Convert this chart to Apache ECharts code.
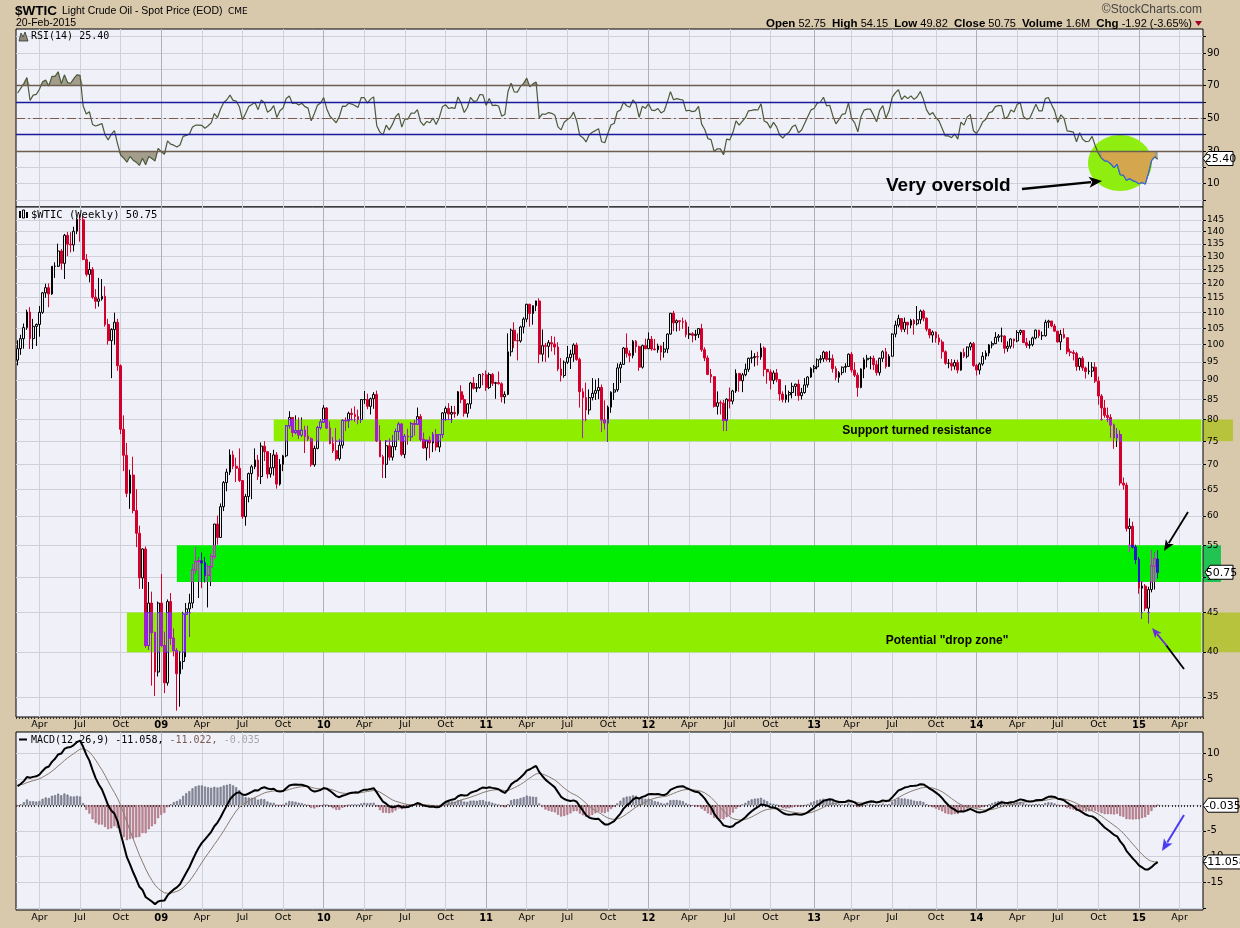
<!DOCTYPE html>
<html><head><meta charset="utf-8">
<script src="https://cdn.jsdelivr.net/npm/echarts@6/dist/echarts.min.js"></script>
<style>html,body{margin:0;padding:0;background:#d8c8ac;}#chart{width:1240px;height:928px;}</style>
</head><body><div id="chart"></div>
<script>
// ================= DATA =================
// Weekly bars of $WTIC, week ending Fridays, first bar 2008-02-22. Each entry: [open, high, low, close]
const firstWeekEnding = '2008-02-22';
const emptyWeeksAfter = 14;
const wk2008 = [
[95.5,101.3,94.0,98.8],[98.8,103.0,97.0,101.8],[101.8,106.5,98.8,105.2],[105.2,111.0,104.5,110.2],
[110.2,111.8,98.7,101.8],[101.8,108.0,98.7,105.6],[105.6,106.5,99.6,106.2],[106.2,112.2,102.4,110.1],
[110.1,117.0,109.6,116.7],[116.7,119.9,115.0,118.5],[118.5,120.0,111.8,116.3],[116.3,126.4,116.0,126.3],
[126.3,127.8,122.0,126.3],[126.3,135.1,126.0,132.2],[132.2,133.0,125.0,127.4],[127.4,139.1,121.6,138.5],
[138.5,139.9,130.2,134.9],[134.9,139.8,131.6,134.6],[134.6,142.1,132.0,140.2],[140.2,145.9,139.0,145.3],
[145.3,147.3,135.9,145.1],[145.1,146.8,128.6,128.9],[128.9,131.0,122.5,123.3],[123.3,128.0,120.4,125.1],
[125.1,126.0,114.6,115.2],[115.2,118.0,111.3,113.8],[113.8,122.0,112.0,114.6],[114.6,121.6,114.0,115.5],
[115.5,119.0,105.5,106.2],[106.2,108.0,100.0,101.2],[101.2,105.0,90.5,104.6],[104.6,110.0,100.0,106.9],
[106.9,108.0,92.5,93.9],[93.9,94.3,76.6,77.7],[77.7,81.0,68.6,71.9],[71.9,74.6,63.5,64.2],
[64.2,68.9,61.3,67.8],[67.8,71.6,60.5,61.0],[61.0,65.0,54.7,57.0],[57.0,58.3,48.3,49.9],
[49.9,54.5,48.3,54.4],[54.4,54.8,40.5,40.8],[40.8,49.3,40.3,46.3],[46.3,47.9,36.2,42.4],
[42.4,42.5,35.1,37.7]];
const wk2009 = [
[37.7,46.5,37.2,46.3],[46.3,50.5,40.6,40.8],[40.8,42.5,35.4,36.5],[36.5,46.8,36.2,46.5],
[46.5,47.7,40.9,41.7],[41.7,42.9,39.5,40.2],[40.2,40.5,33.6,37.5],[37.5,40.1,34.0,38.9],
[38.9,45.1,38.0,44.8],[44.8,46.3,39.4,45.5],[45.5,47.6,41.9,46.3],[46.3,52.0,45.6,51.1],
[51.1,54.7,50.5,52.4],[52.4,53.0,47.0,52.5],[52.5,53.8,48.4,52.2],[52.2,53.1,49.2,50.3],
[50.3,51.9,45.7,51.6],[51.6,53.6,48.7,53.2],[53.2,58.6,52.8,58.6],[58.6,60.1,55.1,56.3],
[56.3,62.3,56.2,61.7],[61.7,66.6,60.9,66.3],[66.3,69.1,64.6,68.4],[68.4,73.2,67.8,72.0],
[72.0,72.9,69.0,69.6],[69.6,71.4,66.4,69.2],[69.2,73.4,66.4,66.7],[66.7,66.7,59.5,59.9],
[59.9,64.1,58.3,63.6],[63.6,68.3,62.5,68.1],[68.1,69.9,63.1,69.5],[69.5,73.4,69.0,70.9],
[70.9,72.0,66.8,67.5],[67.5,74.7,66.0,73.9],[73.9,75.0,70.7,72.7],[72.7,72.7,67.1,68.0],
[68.0,72.4,67.3,69.3],[69.3,73.1,67.7,72.0],[72.0,72.6,65.1,66.0],[66.0,71.1,65.7,70.0],
[70.0,72.0,68.6,71.8],[71.8,78.7,71.5,78.5],[78.5,82.0,77.9,80.5],[80.5,80.5,76.0,77.0],
[77.0,81.0,76.6,77.4],[77.4,80.5,75.5,76.4],[76.4,80.5,76.0,77.5],[77.5,78.5,72.4,76.1],
[76.1,78.5,75.1,75.5],[75.5,75.8,69.5,69.9],[69.9,74.0,69.5,73.4],[73.4,78.4,73.2,78.1],
[78.1,80.0,77.7,79.4]];
const wk2010 = [
[79.4,83.5,79.3,82.8],[82.8,83.0,77.9,78.0],[78.0,79.5,74.3,74.5],[74.5,75.9,72.4,72.9],
[72.9,78.0,70.8,71.2],[71.2,75.5,70.8,74.1],[74.1,80.0,73.4,79.8],[79.8,80.5,77.3,79.7],
[79.7,81.9,78.1,81.5],[81.5,82.7,79.8,81.2],[81.2,83.2,79.5,80.7],[80.7,82.4,78.9,80.0],
[80.0,85.0,79.2,84.9],[84.9,87.1,83.8,84.9],[84.9,86.4,82.5,83.2],[83.2,85.4,81.2,85.1],
[85.1,86.8,82.6,86.2],[86.2,87.2,74.8,75.1],[75.1,78.6,71.5,71.6],[71.6,72.0,67.2,70.0],
[70.0,75.2,67.2,74.0],[74.0,75.6,70.8,71.5],[71.5,76.4,70.8,73.8],[73.8,77.8,73.0,77.2],
[77.2,79.4,75.3,78.9],[78.9,79.1,71.7,72.1],[72.1,76.6,71.3,76.1],[76.1,77.8,74.2,76.0],
[76.0,79.4,75.1,79.0],[79.0,79.9,76.3,78.9],[78.9,82.9,78.7,80.7],[80.7,81.3,75.0,75.4],
[75.4,76.9,73.3,73.5],[73.5,75.2,70.8,75.2],[75.2,76.0,71.3,74.6],[74.6,77.0,72.6,76.5],
[76.5,77.7,72.9,73.7],[73.7,76.5,72.6,76.5],[76.5,81.7,75.8,81.6],[81.6,83.2,79.7,82.7],
[82.7,84.0,79.9,81.3],[81.3,83.3,79.2,81.7],[81.7,83.3,80.4,81.4],[81.4,87.1,80.9,86.9],
[86.9,88.6,84.0,84.9],[84.9,86.1,80.7,81.5],[81.5,84.0,80.5,83.8],[83.8,89.5,82.6,89.2],
[89.2,90.8,87.5,87.8],[87.8,89.2,86.8,88.0],[88.0,91.6,87.7,91.5],[91.5,91.9,88.6,91.4]];
const wk2011 = [
[91.4,92.6,87.1,88.0],[88.0,92.0,87.6,91.5],[91.5,91.9,88.4,89.1],[89.1,89.5,85.1,89.3],
[89.3,92.3,88.8,89.0],[89.0,89.4,84.2,85.6],[85.6,87.0,83.9,86.2],[86.2,103.4,86.0,97.9],
[97.9,104.9,96.6,104.4],[104.4,106.9,99.0,101.2],[101.2,103.4,95.4,101.1],[101.1,105.8,100.6,105.4],
[105.4,108.5,103.4,107.9],[107.9,112.9,106.9,112.8],[112.8,112.9,105.5,109.7],[109.7,112.4,106.1,112.3],
[112.3,114.0,110.5,113.9],[113.9,114.8,94.6,97.2],[97.2,104.6,95.1,99.7],[99.7,100.5,95.0,99.5],
[99.5,101.4,96.2,100.6],[100.6,102.6,98.0,100.2],[100.2,102.4,97.0,99.3],[99.3,100.7,92.4,93.0],
[93.0,96.1,89.6,91.2],[91.2,95.4,90.6,94.9],[94.9,99.6,94.4,96.2],[96.2,98.5,93.0,97.2],
[97.2,100.4,95.0,99.9],[99.9,100.6,95.3,95.7],[95.7,96.2,82.9,86.9],[86.9,87.8,75.7,85.4],
[85.4,89.3,79.6,82.3],[82.3,87.5,81.2,85.4],[85.4,90.5,84.7,86.5],[86.5,90.1,84.8,87.2],
[87.2,90.5,85.0,88.0],[88.0,88.8,77.1,79.9],[79.9,84.7,77.7,79.2],[79.2,83.4,74.9,83.0],
[83.0,87.0,81.6,86.8],[86.8,89.2,84.8,87.4],[87.4,94.6,86.9,93.3],[93.3,95.0,89.2,94.3],
[94.3,99.3,94.1,99.0],[99.0,103.4,96.2,97.4],[97.4,98.3,94.9,96.8],[96.8,101.4,96.0,101.0],
[101.0,101.4,97.6,99.4],[99.4,99.7,92.5,93.5],[93.5,100.0,93.1,99.7],[99.7,101.8,98.6,98.8]];
const wk2012 = [
[98.8,103.7,98.7,101.6],[101.6,102.6,98.2,98.7],[98.7,101.7,98.3,98.5],[98.5,100.3,97.6,99.6],
[99.6,99.8,95.4,97.8],[97.8,100.8,96.2,98.7],[98.7,103.4,97.5,103.2],[103.2,109.9,103.0,109.8],
[109.8,110.6,104.1,106.7],[106.7,107.8,104.0,107.4],[107.4,107.5,104.2,107.1],[107.1,108.4,104.8,106.9],
[106.9,107.7,102.2,103.0],[103.0,105.5,101.7,103.3],[103.3,103.8,100.7,102.8],[102.8,104.5,101.3,103.1],
[103.1,104.9,102.0,104.9],[104.9,106.4,97.9,98.5],[98.5,99.2,95.2,96.1],[96.1,96.8,91.3,91.5],
[91.5,93.0,89.2,90.9],[90.9,91.0,82.9,83.2],[83.2,87.0,81.2,84.1],[84.1,84.7,81.2,84.0],
[84.0,84.8,77.3,79.8],[79.8,85.2,77.3,85.0],[85.0,88.0,82.7,84.5],[84.5,87.4,83.7,87.1],
[87.1,92.9,86.6,91.8],[91.8,91.8,86.9,89.8],[89.8,91.9,86.8,91.4],[91.4,94.5,91.0,92.9],
[92.9,96.2,92.2,96.0],[96.0,98.3,94.6,96.2],[96.2,97.5,93.7,96.5],[96.5,97.9,94.0,96.4],
[96.4,100.4,95.6,99.0],[99.0,99.5,91.0,92.9],[92.9,93.0,89.0,92.2],[92.2,92.9,87.5,89.9],
[89.9,92.6,88.9,91.9],[91.9,93.0,89.4,90.1],[90.1,90.1,84.6,86.3],[86.3,87.0,84.2,84.9],
[84.9,88.6,84.1,86.1],[86.1,87.2,84.2,86.7],[86.7,89.3,85.2,88.3],[88.3,89.0,85.8,88.9],
[88.9,90.1,84.6,85.9],[85.9,87.9,84.9,86.7],[86.7,90.5,86.4,88.7],[88.7,91.0,88.0,90.8]];
const wk2013 = [
[90.8,93.5,90.6,93.1],[93.1,94.1,92.0,93.6],[93.6,96.0,92.9,95.6],[95.6,96.9,94.6,95.9],
[95.9,98.2,95.0,97.8],[97.8,98.0,95.1,95.7],[95.7,98.2,94.9,95.9],[95.9,97.1,92.0,93.1],
[93.1,93.8,89.9,90.7],[90.7,92.4,89.3,92.0],[92.0,93.7,91.3,93.5],[93.5,94.6,92.0,93.7],
[93.7,97.4,93.7,97.2],[97.2,97.8,92.0,92.7],[92.7,94.9,90.8,91.3],[91.3,92.0,85.6,88.0],
[88.0,93.2,87.8,93.0],[93.0,96.2,90.5,95.6],[95.6,97.0,93.4,96.0],[96.0,96.6,92.9,96.0],
[96.0,96.8,92.7,94.2],[94.2,95.4,91.2,92.0],[92.0,96.2,91.2,96.0],[96.0,98.3,95.0,97.9],
[97.9,99.0,93.1,93.7],[93.7,97.2,93.6,96.6],[96.6,103.4,96.5,103.2],[103.2,107.4,102.2,106.0],
[106.0,109.3,105.3,108.1],[108.1,108.2,103.8,104.7],[104.7,108.4,103.8,106.9],[106.9,106.9,103.1,106.0],
[106.0,108.0,105.0,107.5],[107.5,107.9,103.0,106.4],[106.4,112.2,105.9,107.7],[107.7,111.0,106.4,110.5],
[110.5,111.0,107.2,108.2],[108.2,108.4,104.0,104.7],[104.7,104.9,101.9,102.9],[102.9,104.3,100.6,103.8],
[103.8,104.0,100.6,102.0],[102.0,103.1,99.9,100.8],[100.8,101.5,95.9,97.9],[97.9,98.3,94.2,94.6],
[94.6,95.8,93.2,94.6],[94.6,95.8,92.5,93.8],[93.8,95.6,92.8,94.8],[94.8,95.6,91.8,92.7],
[92.7,97.9,92.5,97.7],[97.7,98.9,96.1,96.6],[96.6,99.4,96.0,99.3],[99.3,100.8,98.3,100.3]];
const wk2014 = [
[100.3,100.8,93.6,94.0],[94.0,94.4,91.2,92.7],[92.7,94.8,91.5,94.4],[94.4,97.8,93.9,96.6],
[96.6,98.3,95.6,97.5],[97.5,100.2,96.6,99.9],[99.9,101.0,98.9,100.3],[100.3,103.8,100.2,102.2],
[102.2,103.2,100.9,102.6],[102.6,105.2,100.7,102.6],[102.6,102.8,97.4,98.9],[98.9,101.0,97.9,99.5],
[99.5,101.9,98.8,101.7],[101.7,101.8,98.9,101.1],[101.1,104.4,100.7,103.7],[103.7,104.6,102.9,104.3],
[104.3,104.3,100.5,100.6],[100.6,102.0,99.0,99.8],[99.8,101.2,98.8,100.0],[100.0,102.4,99.5,102.0],
[102.0,104.6,101.6,104.4],[104.4,104.5,102.0,102.7],[102.7,104.0,101.4,102.7],[102.7,107.7,102.4,106.9],
[106.9,107.7,105.1,107.3],[107.3,107.3,105.3,105.7],[105.7,106.4,103.9,104.1],[104.1,104.2,100.6,100.8],
[100.8,104.5,98.4,103.1],[103.1,105.0,101.8,102.1],[102.1,102.1,97.2,97.9],[97.9,98.8,96.6,97.7],
[97.7,98.4,95.4,97.4],[97.4,97.9,92.5,93.7],[93.7,96.2,92.6,96.0],[96.0,96.6,92.5,93.3],
[93.3,93.7,90.4,92.3],[92.3,95.0,91.5,92.4],[92.4,94.9,90.8,93.5],[93.5,94.9,89.2,89.7],
[89.7,90.9,83.6,85.8],[85.8,86.3,79.8,82.8],[82.8,84.8,80.4,81.0],[81.0,82.9,79.4,80.5],
[80.5,81.3,75.8,78.7],[78.7,79.0,73.3,75.8],[75.8,77.9,73.7,76.5],[76.5,77.4,65.7,66.2],
[66.2,67.3,64.9,65.8],[65.8,66.3,57.3,57.8],[57.8,59.6,53.9,58.2],[58.2,59.0,54.5,54.7]];
const wk2015 = [
[54.7,55.1,52.0,52.7],[52.7,53.1,47.6,48.4],[48.4,49.4,44.2,48.7],[48.7,49.0,45.2,45.6],
[45.6,48.6,43.6,48.2],[48.2,54.2,47.8,51.7],[51.7,53.8,48.2,52.8],[52.75,54.15,49.82,50.75]];
// weekly closes Jul 2007 – 15 Feb 2008: look-back only, so RSI(14)/MACD are defined at the left edge
const lookbackCloses = [72.8,73.9,75.6,77.0,75.5,71.5,72.0,71.1,74.0,76.7,79.1,81.6,81.7,81.2,83.7,88.6,
  91.9,95.9,96.3,95.1,98.2,88.7,88.3,91.3,93.3,96.0,97.9,92.7,90.6,90.7,89.0,91.8,95.5];
// annotation zones: [first week, low price, high price]
const zoneDrop = ['2008-10-24', 40, 45];
const zoneMid = ['2009-02-13', 49.3, 55];
const zoneResist = ['2009-09-18', 75, 80];
const rsiHighlight = ['2014-10-17', '2015-02-13'];
// tick values
const priceTicks = [35,40,45,50,55,60,65,70,75,80,85,90,95,100,105,110,115,120,125,130,135,140,145];
const rsiGrid = [0,10,20,30,40,50,60,70,80,90,100];
const rsiLabels = [10,30,50,70,90];
const macdGrid = [-20,-15,-10,-5,0,5,10];
const macdLabels = [-15,-10,-5,0,5,10];
const headerVals = {open:'52.75', high:'54.15', low:'49.82', close:'50.75', vol:'1.6M', chg:'-1.92 (-3.65%)'};
const lastRsiLabel = 25.40, lastPriceLabel = 50.75, macdLabel = [-11.058, -11.022, -0.035];

// ================= BUILD =================
const ohlc = [].concat(wk2008, wk2009, wk2010, wk2011, wk2012, wk2013, wk2014, wk2015);
const nBars = ohlc.length;
const dates = [];
(function () {
  const p = firstWeekEnding.split('-').map(Number);
  let t = Date.UTC(p[0], p[1] - 1, p[2]);
  for (let i = 0; i < nBars + emptyWeeksAfter; i++) { dates.push(new Date(t).toISOString().slice(0, 10)); t += 7 * 864e5; }
})();
const closes = ohlc.map(b => b[3]);
const allCloses = lookbackCloses.concat(closes);
function wilderRSI(cl, p) {
  const out = cl.map(() => null); let ag = 0, al = 0;
  for (let i = 1; i < cl.length; i++) {
    const ch = cl[i] - cl[i - 1], g = Math.max(ch, 0), l = Math.max(-ch, 0);
    if (i <= p) { ag += g; al += l; if (i === p) { ag /= p; al /= p; out[i] = 100 - 100 / (1 + ag / al); } }
    else { ag = (ag * (p - 1) + g) / p; al = (al * (p - 1) + l) / p; out[i] = al === 0 ? 100 : 100 - 100 / (1 + ag / al); }
  }
  return out;
}
function ema(arr, p) { const k = 2 / (p + 1); let e = arr[0]; return arr.map(v => (e = v * k + e * (1 - k))); }
const L = lookbackCloses.length;
const rsi = wilderRSI(allCloses, 14).slice(L).map(v => +v.toFixed(2));
const e12 = ema(allCloses, 12), e26 = ema(allCloses, 26);
const macdAll = e12.map((v, i) => v - e26[i]);
const sigAll = ema(macdAll, 9);
const macd = macdAll.slice(L).map(v => +v.toFixed(3));
const signal = sigAll.slice(L).map(v => +v.toFixed(3));
const hist = macd.map((v, i) => +(v - signal[i]).toFixed(3));
const histData = hist.map(v => ({ value: v, itemStyle: v >= 0
  ? { color: '#9597a8', borderColor: '#5e6072', borderWidth: 0.6 }
  : { color: '#c9949f', borderColor: '#9c5d6c', borderWidth: 0.6 } }));

const BG = '#eff0f8', RED = '#d4002c';
const candleData = ohlc.map(b => [b[0], b[3], b[2], b[1]]);
function zoneCandles(zone, upCol, downCol, fillCol) {
  const s = dates.indexOf(zone[0]), lo = zone[1], hi = zone[2];
  const cl = v => Math.min(hi, Math.max(lo, v));
  return ohlc.map((b, i) => {
    if (i < s || b[1] < lo || b[2] > hi) return { value: ['-', '-', '-', '-'] };
    const up = b[3] >= b[0];
    return {
      value: [cl(b[0]), cl(b[3]), cl(b[2]), cl(b[1])],
      itemStyle: up ? { color: fillCol, color0: fillCol, borderColor: upCol, borderColor0: upCol }
                    : { color: downCol, color0: downCol, borderColor: downCol, borderColor0: downCol }
    };
  });
}
const YG = '#8fee00', GR = '#00ee00';
const hiA = dates.indexOf(rsiHighlight[0]), hiB = dates.indexOf(rsiHighlight[1]);
const rsiHL = rsi.map((v, i) => (i >= hiA && i <= hiB ? v : null));

const MONTHS = ['Jan','Feb','Mar','Apr','May','Jun','Jul','Aug','Sep','Oct','Nov','Dec'];
function isQ(v) { const m = +v.slice(5, 7), d = +v.slice(8, 10); return (m - 1) % 3 === 0 && d >= 5 && d <= 11; }
function fmtX(v) { const m = +v.slice(5, 7); return m === 1 ? '{y|' + v.slice(2, 4) + '}' : MONTHS[m - 1]; }
function xa(g, labels) {
  return {
    type: 'category', gridIndex: g, data: dates, boundaryGap: true,
    axisLine: { show: false },
    axisTick: { show: labels, interval: 0, length: 2, lineStyle: { color: '#333' } },
    axisLabel: { show: labels, interval: (i, v) => isQ(v), formatter: fmtX, margin: 3,
      fontFamily: 'DejaVu Sans', fontSize: 9.5, color: '#000',
      rich: { y: { fontFamily: 'DejaVu Sans', fontWeight: 'bold', fontSize: 10, color: '#000' } } },
    splitLine: { show: true, interval: (i, v) => isQ(v), alignWithLabel: true,
      lineStyle: { color: ['#d0d0d8', '#d0d0d8', '#d0d0d8', '#b0b0b8'], width: 1 } }
  };
}
function ya(g, extra) {
  return Object.assign({
    gridIndex: g, position: 'right', scale: true,
    axisLine: { show: false },
    splitLine: { show: true, lineStyle: { color: '#d0d0d8' } }
  }, extra);
}
const gridBase = { left: 16, width: 1187, show: true, backgroundColor: BG, borderColor: '#000', borderWidth: 1 };

const option = {
  animation: false,
  backgroundColor: '#d8c8ac',
  textStyle: { fontFamily: 'Liberation Sans, Arial, sans-serif' },
  grid: [
    Object.assign({ top: 29, height: 178 }, gridBase),
    Object.assign({ top: 207, height: 510 }, gridBase),
    Object.assign({ top: 732, height: 178 }, gridBase)
  ],
  xAxis: [xa(0, false), xa(1, true), xa(2, true)],
  yAxis: [
    ya(0, { type: 'value', min: -4.3, max: 104.7,
      axisTick: { show: true, length: 3, customValues: rsiGrid, lineStyle: { color: '#000' } },
      axisLabel: { customValues: rsiLabels, fontFamily: 'DejaVu Sans', fontSize: 10, color: '#000', margin: 4 } }),
    ya(1, { type: 'log', min: 32.97, max: 150.7,
      axisTick: { show: true, length: 3, customValues: priceTicks, lineStyle: { color: '#000' } },
      axisLabel: { customValues: priceTicks, fontFamily: 'DejaVu Sans', fontSize: 9, color: '#000', margin: 4 } }),
    ya(2, { type: 'value', min: -20.4, max: 14.2,
      axisTick: { show: true, length: 3, customValues: macdGrid, lineStyle: { color: '#000' } },
      axisLabel: { customValues: macdLabels, fontFamily: 'DejaVu Sans', fontSize: 10, color: '#000', margin: 4 } })
  ],
  series: [
    { name: 'rsiLowFill', type: 'line', xAxisIndex: 0, yAxisIndex: 0, data: rsi.map(v => Math.min(v, 30)),
      symbol: 'none', lineStyle: { width: 0, opacity: 0 }, areaStyle: { origin: 30, color: '#a39d8b', opacity: 1 }, z: 2, silent: true },
    { name: 'rsiHighFill', type: 'line', xAxisIndex: 0, yAxisIndex: 0, data: rsi.map(v => Math.max(v, 70)),
      symbol: 'none', lineStyle: { width: 0, opacity: 0 }, areaStyle: { origin: 70, color: '#a39d8b', opacity: 1 }, z: 2, silent: true },
    { name: 'RSI', type: 'line', xAxisIndex: 0, yAxisIndex: 0, data: rsi, symbol: 'none', z: 3,
      lineStyle: { color: '#4b5a3a', width: 1.2 },
      markLine: { silent: true, symbol: ['none', 'none'], label: { show: false }, animation: false,
        data: [
          { yAxis: 70, lineStyle: { color: '#6e5e50', width: 1.4, type: 'solid' } },
          { yAxis: 30, lineStyle: { color: '#6e5e50', width: 1.4, type: 'solid' } },
          { yAxis: 60, lineStyle: { color: '#1a1a9a', width: 1.4, type: 'solid' } },
          { yAxis: 40, lineStyle: { color: '#1a1a9a', width: 1.4, type: 'solid' } },
          { yAxis: 50, lineStyle: { color: '#7a5c4c', width: 1.2, type: [9, 3, 2, 3] } }
        ] } },
    { name: 'rsiHLFill', type: 'line', xAxisIndex: 0, yAxisIndex: 0, data: rsiHL.map(v => (v == null ? null : Math.min(v, 30))),
      symbol: 'none', lineStyle: { width: 0, opacity: 0 }, areaStyle: { origin: 30, color: '#d4a64e', opacity: 1 }, z: 4, silent: true },
    { name: 'rsiHL', type: 'line', xAxisIndex: 0, yAxisIndex: 0, data: rsiHL, symbol: 'none', z: 4,
      lineStyle: { color: '#3468dc', width: 1.2 }, silent: true },

    { name: '$WTIC', type: 'candlestick', xAxisIndex: 1, yAxisIndex: 1, data: candleData, barWidth: 2.3, z: 2,
      itemStyle: { color: BG, color0: RED, borderColor: '#000', borderColor0: RED, borderWidth: 1 } },
    { name: 'zoneDrop', type: 'candlestick', xAxisIndex: 1, yAxisIndex: 1, barWidth: 2.3, z: 3, silent: true,
      data: zoneCandles(zoneDrop, '#7a1ef8', '#a61ecc', YG), itemStyle: { borderWidth: 1 },
      markArea: { silent: true, itemStyle: { color: YG, opacity: 1 },
        data: [[{ xAxis: zoneDrop[0], yAxis: zoneDrop[1] }, { xAxis: dates[dates.length - 1], yAxis: zoneDrop[2] }]] } },
    { name: 'zoneMid', type: 'candlestick', xAxisIndex: 1, yAxisIndex: 1, barWidth: 2.3, z: 3, silent: true,
      data: zoneCandles(zoneMid, '#f00ff8', '#2a14d0', GR), itemStyle: { borderWidth: 1 },
      markArea: { silent: true, itemStyle: { color: GR, opacity: 1 },
        data: [[{ xAxis: zoneMid[0], yAxis: zoneMid[1] }, { xAxis: dates[dates.length - 1], yAxis: zoneMid[2] }]] } },
    { name: 'zoneResist', type: 'candlestick', xAxisIndex: 1, yAxisIndex: 1, barWidth: 2.3, z: 3, silent: true,
      data: zoneCandles(zoneResist, '#7a1ef8', '#a61ecc', YG), itemStyle: { borderWidth: 1 },
      markArea: { silent: true, itemStyle: { color: YG, opacity: 1 },
        data: [[{ xAxis: zoneResist[0], yAxis: zoneResist[1] }, { xAxis: dates[dates.length - 1], yAxis: zoneResist[2] }]] } },

    { name: 'hist', type: 'bar', xAxisIndex: 2, yAxisIndex: 2, data: histData, barWidth: 2, z: 2, silent: true },
    { name: 'signal', type: 'line', xAxisIndex: 2, yAxisIndex: 2, data: signal, symbol: 'none', z: 3,
      lineStyle: { color: '#8a7a70', width: 1 } },
    { name: 'MACD', type: 'line', xAxisIndex: 2, yAxisIndex: 2, data: macd, symbol: 'none', z: 4,
      lineStyle: { color: '#000', width: 2 } }
  ]
};

const chart = echarts.init(document.getElementById('chart'));
chart.setOption(option);

// ================= ANNOTATIONS =================
function T(x, y, text, font, fill, align, extra) {
  return { type: 'text', x: x, y: y, z: 100, silent: true,
    style: Object.assign({ text: text, font: font, fill: fill || '#000', textAlign: align || 'left', textVerticalAlign: 'middle' }, extra || {}) };
}
function arrow(x1, y1, x2, y2, color, w, hl) {
  const a = Math.atan2(y2 - y1, x2 - x1), hw = hl * 0.42;
  const bx = x2 - hl * Math.cos(a), by = y2 - hl * Math.sin(a);
  const px = -Math.sin(a) * hw, py = Math.cos(a) * hw;
  return [
    { type: 'line', z: 100, silent: true, shape: { x1: x1, y1: y1, x2: bx + Math.cos(a) * 2, y2: by + Math.sin(a) * 2 }, style: { stroke: color, lineWidth: w } },
    { type: 'polygon', z: 100, silent: true, shape: { points: [[x2, y2], [bx + px, by + py], [bx + hl * 0.25 * Math.cos(a), by + hl * 0.25 * Math.sin(a)], [bx - px, by - py]] }, style: { fill: color } }
  ];
}
function valueBox(x, y, w, text, fill) {
  return [
    { type: 'polygon', silent: true, shape: { points: [[x, y], [x + 5, y - 7], [x + w, y - 7], [x + w, y + 7], [x + 5, y + 7]] },
      style: { fill: '#fff', stroke: '#000', lineWidth: 1 } },
    T(x + 5 + (w - 5) / 2, y + 0.5, text, '11px DejaVu Sans', fill || '#000', 'center', {}),
  ].map(e => Object.assign(e, { z: 110 }));
}
const px = (yi, v) => chart.convertToPixel({ yAxisIndex: yi }, v);
const xLast = chart.convertToPixel({ xAxisIndex: 1 }, dates[dates.length - 1]);
const g = [];
// header
g.push(T(15, 11, '$WTIC', 'bold 13.5px Liberation Sans', '#000'));
g.push(T(62, 11, 'Light Crude Oil - Spot Price (EOD)', '10.5px Liberation Sans', '#000'));
g.push(T(228, 11.5, 'CME', '9px DejaVu Sans', '#000'));
g.push(T(16, 23.5, '20-Feb-2015', '10.5px Liberation Sans', '#000'));
g.push(T(1202, 10, '\u00A9StockCharts.com', '12px Liberation Sans', '#444', 'right'));
g.push({ type: 'text', x: 1192, y: 23.5, z: 100, silent: true, style: {
  text: '{b|Open} ' + headerVals.open + '  {b|High} ' + headerVals.high + '  {b|Low} ' + headerVals.low +
        '  {b|Close} ' + headerVals.close + '  {b|Volume} ' + headerVals.vol + '  {b|Chg} ' + headerVals.chg,
  font: '11px Liberation Sans', fill: '#000', textAlign: 'right', textVerticalAlign: 'middle',
  rich: { b: { font: 'bold 11.5px Liberation Sans', fill: '#000' } } } });
g.push({ type: 'polygon', z: 100, silent: true, shape: { points: [[1195, 21], [1202, 21], [1198.5, 26]] }, style: { fill: '#a0002a' } });
// panel titles
g.push({ type: 'polygon', z: 100, silent: true, shape: { points: [[19, 41], [21, 33], [23, 37], [25, 32], [28, 41]] }, style: { fill: '#8f8a78', stroke: '#333', lineWidth: 0.8 } });
g.push(T(31, 36.5, 'RSI(14) 25.40', '10px DejaVu Sans Mono', '#000'));
g.push({ type: 'rect', z: 100, silent: true, shape: { x: 19, y: 211, width: 2, height: 7 }, style: { fill: '#000' } });
g.push({ type: 'rect', z: 100, silent: true, shape: { x: 22.5, y: 210, width: 2, height: 8 }, style: { fill: 'none', stroke: '#000', lineWidth: 1 } });
g.push({ type: 'rect', z: 100, silent: true, shape: { x: 26, y: 212, width: 2, height: 6 }, style: { fill: '#000' } });
g.push(T(31, 215, '$WTIC (Weekly) 50.75', '10.5px DejaVu Sans Mono', '#000'));
g.push({ type: 'line', z: 100, silent: true, shape: { x1: 19, y1: 739.5, x2: 27, y2: 739.5 }, style: { stroke: '#000', lineWidth: 2 } });
g.push({ type: 'text', x: 31, y: 740, z: 100, silent: true, style: {
  text: 'MACD(12,26,9) -11.058, {s|-11.022,} {h|-0.035}', font: '10px DejaVu Sans Mono', fill: '#000', textVerticalAlign: 'middle',
  rich: { s: { font: '10px DejaVu Sans Mono', fill: '#7d5d52' }, h: { font: '10px DejaVu Sans Mono', fill: '#a8a8ac' } } } });
// RSI annotation
g.push({ type: 'ellipse', z: 1, silent: true, shape: { cx: 1120, cy: 163, rx: 32, ry: 28 }, style: { fill: '#8fee10' } });
g.push(T(886, 186, 'Very oversold', 'bold 19px Liberation Sans', '#000'));
arrow(1022, 189, 1102, 181, '#000', 2.4, 13).forEach(e => g.push(e));
// price annotations
const yRes = (px(1, zoneResist[1]) + px(1, zoneResist[2])) / 2;
const yDrop = (px(1, zoneDrop[1]) + px(1, zoneDrop[2])) / 2;
g.push(T(917, yRes, 'Support turned resistance', 'bold 12px Liberation Sans', '#000', 'center'));
g.push(T(947, yDrop + 8, 'Potential "drop zone"', 'bold 12px Liberation Sans', '#000', 'center'));
arrow(1188, 512, 1164, 551, '#000', 1.8, 11).forEach(e => g.push(e));
g.push({ type: 'line', z: 100, silent: true, shape: { x1: 1184, y1: 669, x2: 1166, y2: 645 }, style: { stroke: '#000', lineWidth: 1.8 } });
arrow(1167, 646, 1152, 628, '#6a2ce0', 1.8, 10).forEach(e => g.push(e));
arrow(1184, 815, 1162, 851, '#4a3cf0', 2, 12).forEach(e => g.push(e));
// zone bands continuing into the price-scale margin
[[zoneResist, 1233, '#b7c33c'], [zoneMid, 1221, '#22c352'], [zoneDrop, 1240, '#b7c33c']].forEach(function (z) {
  const y1 = px(1, z[0][2]), y2 = px(1, z[0][1]);
  g.push({ type: 'rect', z: -1, silent: true, shape: { x: xLast, y: y1, width: z[1] - xLast, height: y2 - y1 }, style: { fill: z[2] } });
});
// last-value boxes
valueBox(1203, px(0, lastRsiLabel), 30, lastRsiLabel.toFixed(2)).forEach(e => g.push(e));
valueBox(1205, px(1, lastPriceLabel), 28, lastPriceLabel.toFixed(2)).forEach(e => g.push(e));
valueBox(1203, px(2, macdLabel[2]), 35, macdLabel[2].toFixed(3)).forEach(e => g.push(e));
valueBox(1203, px(2, macdLabel[0]), 38, macdLabel[0].toFixed(3)).forEach(e => g.push(e));
chart.setOption({ graphic: g });
</script></body></html>
